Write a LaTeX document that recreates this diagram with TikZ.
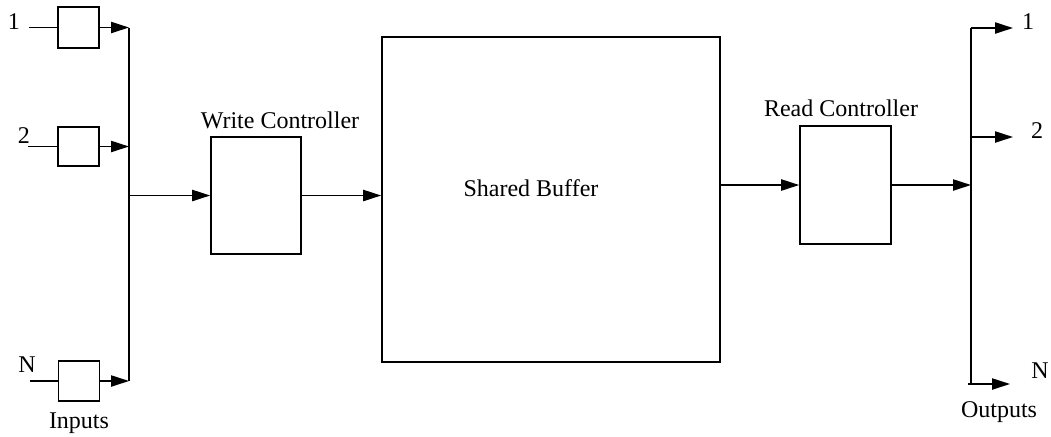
\documentclass[tikz,border=0pt]{standalone}
\usepackage{fontspec}
\setmainfont{Liberation Serif}
\usetikzlibrary{arrows.meta}
\begin{document}
\begin{tikzpicture}[x=0.5pt,y=-0.5pt,
  every node/.style={font=\fontsize{12}{14}\selectfont, inner sep=0pt},
  blk/.style={draw, line width=0.8pt, rectangle},
  wire/.style={line width=0.8pt},
  arr/.style={line width=0.8pt, -{Triangle[length=9pt,width=5.6pt]}},
  lbl/.style={anchor=center}]
\useasboundingbox (0,0) rectangle (1051,436);
% input boxes
\node[blk, minimum width=20.5pt, minimum height=20.5pt] (in1) at (78.5,27.5) {};
\node[blk, minimum width=20.5pt, minimum height=19.5pt] (in2) at (78.5,146.5) {};
\node[blk, minimum width=20.5pt, minimum height=20pt] (inN) at (79,381) {};
% main blocks
\node[blk, minimum width=45pt, minimum height=58.5pt] (wc) at (256,195.5) {};
\node[blk, minimum width=169pt, minimum height=162.5pt] (sb) at (551,199.5) {};
\node[blk, minimum width=45.5pt, minimum height=59pt] (rc) at (845.5,185) {};
% bus coordinates
\coordinate (s1) at (29,27.5);
\coordinate (s2) at (28,146.5);
\coordinate (sN) at (30,381);
\coordinate (ibt) at (129,27.5);
\coordinate (ib2) at (129,146.5);
\coordinate (ibb) at (129,381);
\coordinate (obt) at (971,28);
\coordinate (ob2) at (971,137);
\coordinate (obN) at (971,384);
\coordinate (obs) at (968,384);
\coordinate (o1) at (1013,28);
\coordinate (o2) at (1013,137);
\coordinate (oN) at (1010,384);
% labels
\node[lbl] (l1) at (14,22) {1};
\node[lbl] (l2) at (24,136) {2};
\node[lbl] (lN) at (27,365) {N};
\node[lbl] (linp) at (79,423) {Inputs};
\node[lbl] (lwc) at (280,120) {Write Controller};
\node[lbl] (lsb) at (531,188) {Shared Buffer};
\node[lbl] (lrc) at (841,108) {Read Controller};
\node[lbl] (lo1) at (1028,22) {1};
\node[lbl] (lo2) at (1037,131) {2};
\node[lbl] (loN) at (1040,371) {N};
\node[lbl] (lout) at (999,412) {Outputs};
% input wires
\draw[wire] (s1) -- (in1.west);
\draw[wire] (s2) -- (in2.west);
\draw[wire] (sN) -- (inN.west);
\draw[arr] (in1.east) -- (ibt);
\draw[arr] (in2.east) -- (ib2);
\draw[arr] (inN.east) -- (ibb);
\draw[wire] (ibt) -- (ibb);
\draw[arr] (ibt |- wc.west) -- (wc.west);
\draw[arr] (wc.east) -- (sb.west |- wc.east);
\draw[arr] (sb.east |- rc.west) -- (rc.west);
\draw[arr] (rc.east) -- (obt |- rc.east);
% output bus
\draw[wire] (obt) -- (obN);
\draw[arr] (obt) -- (o1);
\draw[arr] (ob2) -- (o2);
\draw[arr] (obs) -- (oN);
\end{tikzpicture}
\end{document}
